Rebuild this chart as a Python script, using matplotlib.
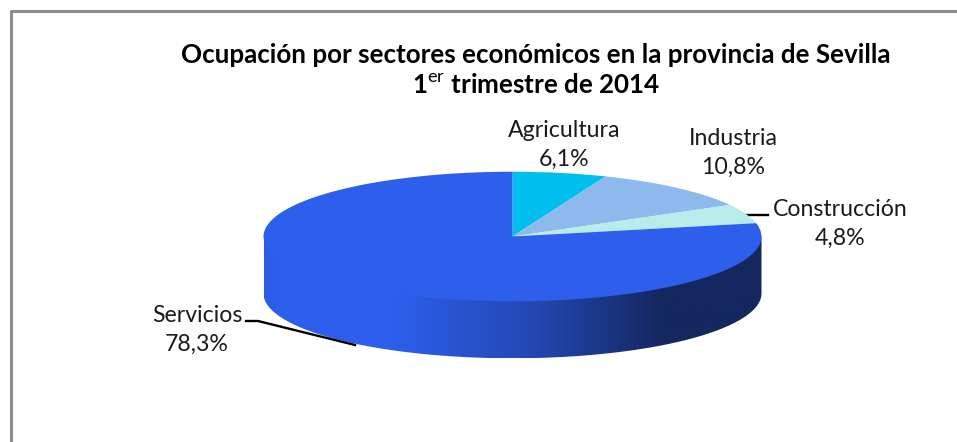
import numpy as np
import matplotlib
matplotlib.use("Agg")
import matplotlib.pyplot as plt
from matplotlib.colors import LinearSegmentedColormap
from matplotlib.patches import PathPatch
from matplotlib.path import Path

# --- data ---
sectors = ["Agricultura", "Industria", "Construcción", "Servicios"]
shares = [6.1, 10.8, 4.8, 78.3]
colors = ["#00BFEF", "#8DB9EC", "#B7ECEA", "#2E5FEC"]

W, H = 957, 442
CX, CY, RX, RY = 512.5, 236.5, 249, 64.8
DEPTH = 57

plt.rcParams["font.family"] = ["Lato", "DejaVu Sans"]
plt.rcParams["mathtext.fontset"] = "custom"
plt.rcParams["mathtext.rm"] = "Lato"

fig = plt.figure(figsize=(W / 100, H / 100), dpi=100)

# pixel axes for frame, side, text
bg = fig.add_axes([0, 0, 1, 1])
bg.set_xlim(0, W)
bg.set_ylim(H, 0)
bg.axis("off")

# frame (right and bottom edges fall outside the image)
bg.plot([10.5, 10.5, W], [H, 11, 11], color="#8C8C8C", lw=2.2, solid_capstyle="butt")

# side of the cylinder: gradient clipped to the outline
t = np.linspace(0, np.pi, 200)
xs = CX + RX * np.cos(t)
ys = CY + DEPTH + RY * np.sin(t)
outline = np.column_stack([np.r_[CX - RX, xs[::-1], CX + RX], np.r_[CY, ys[::-1], CY]])
side_cmap = LinearSegmentedColormap.from_list(
    "side",
    [(0, "#2C5AE2"), (0.03, "#2E5FEC"), (0.26, "#2E5FEC"), (0.55, "#2347B0"), (0.8, "#14275F"), (1, "#14275F")],
)
grad = np.linspace(0, 1, 256).reshape(1, -1)
im = bg.imshow(grad, cmap=side_cmap, aspect="auto",
               extent=[CX - RX, CX + RX, CY + DEPTH + RY, CY])
im.set_clip_path(PathPatch(Path(outline), transform=bg.transData))
bg.set_xlim(0, W)
bg.set_ylim(H, 0)

# top face
pie_ax = fig.add_axes([(CX - RX) / W, 1 - (CY + RY) / H, 2 * RX / W, 2 * RY / H])
pie_ax.pie(shares, colors=colors, startangle=90, counterclock=False, radius=1,
           wedgeprops={"linewidth": 0})
pie_ax.set_aspect("auto")
pie_ax.set_xlim(-1, 1)
pie_ax.set_ylim(-1, 1)
pie_ax.axis("off")

# leader lines
bg.plot([744, 768], [214.5, 214.5], color="black", lw=1.7, zorder=6)
bg.plot([246, 258, 355], [321, 321, 345], color="black", lw=1.7, zorder=6)

# title
bg.text(536, 55, "Ocupación por sectores económicos en la provincia de Sevilla",
        ha="center", va="center", fontsize=18.7, fontweight="bold", color="black")
bg.text(536, 86, r"1$^{\mathrm{er}}$ trimestre de 2014",
        ha="center", va="center", fontsize=18.7, fontweight="bold", color="black")

# labels
label_pos = [(564, 145), (733, 153), (840, 224), (197, 330)]
for name, val, (lx, ly) in zip(sectors, shares, label_pos):
    txt = f"{name}\n{val:.1f}%".replace(".", ",")
    bg.text(lx, ly, txt, ha="center", va="center", fontsize=16.7, color="#1a1a1a", linespacing=1.42)

fig.savefig("out.png", dpi=100)
